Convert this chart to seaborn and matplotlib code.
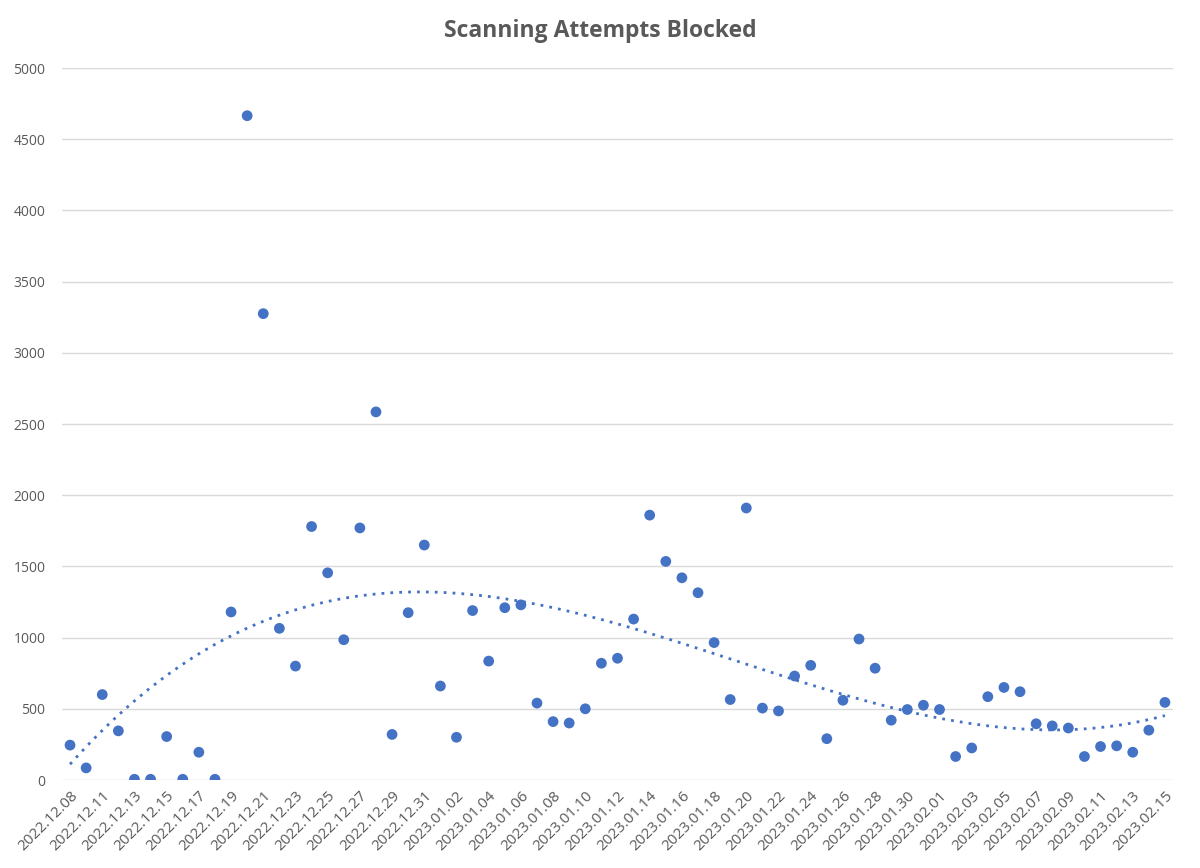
import numpy as np
import pandas as pd
import matplotlib
matplotlib.use('Agg')
import matplotlib.pyplot as plt
import seaborn as sns

# dates (2022.12.09 missing in the source)
dates = ['2022.12.08', '2022.12.10'] + ['2022.12.%02d' % d for d in range(11, 32)] \
    + ['2023.01.%02d' % d for d in range(1, 32)] + ['2023.02.%02d' % d for d in range(1, 16)]

blocked = [245, 85, 600, 345, 5, 5, 305, 5, 195, 5,
           1180, 4665, 3275, 1065, 800, 1780, 1455, 985, 1770, 2585,
           320, 1175, 1650, 660, 300, 1190, 835, 1210, 1230, 540,
           410, 400, 500, 820, 855, 1130, 1860, 1535, 1420, 1315,
           965, 565, 1910, 505, 485, 730, 805, 290, 560, 990,
           785, 420, 495, 525, 495, 165, 225, 585, 650, 620,
           395, 380, 365, 165, 235, 240, 195, 350, 545]

df = pd.DataFrame({'date': dates, 'blocked': blocked})
df['idx'] = range(len(df))

sns.set_style('white')
plt.rcParams['font.family'] = ['Open Sans', 'DejaVu Sans']

blue = '#4472C4'
grey = '#595959'

fig = plt.figure(figsize=(12, 8.68), dpi=100)
ax = fig.add_axes([62 / 1200, 1 - 780 / 868, 1111 / 1200, 712 / 868])

# polynomial (order 3) trendline + points
sns.regplot(x='idx', y='blocked', data=df, order=3, ci=None, ax=ax,
            scatter_kws={'s': 60, 'color': blue, 'edgecolor': 'none', 'alpha': 1, 'zorder': 3},
            line_kws={'color': blue, 'linestyle': (0, (1, 2.2)), 'linewidth': 2, 'zorder': 2})

ax.set_xlim(-0.5, len(df) - 0.5)
ax.set_ylim(0, 5000)
ax.set_yticks(range(0, 5001, 500))
ax.set_xticks(df['idx'][::2])
ax.set_xticklabels(df['date'][::2], rotation=45, ha='right', rotation_mode='anchor')
ax.tick_params(axis='y', length=0, labelsize=10, labelcolor=grey, pad=12)
ax.tick_params(axis='x', length=0, labelsize=11, labelcolor=grey, pad=6)
ax.grid(axis='y', color='#D9D9D9', linewidth=1)
ax.set_axisbelow(True)
for s in ax.spines.values():
    s.set_visible(False)
ax.set_xlabel('')
ax.set_ylabel('')

fig.text(0.5, 1 - 31 / 868, 'Scanning Attempts Blocked', ha='center', va='center',
         fontsize=16.5, fontweight='bold', color=grey)

fig.savefig('out.png', dpi=100)
